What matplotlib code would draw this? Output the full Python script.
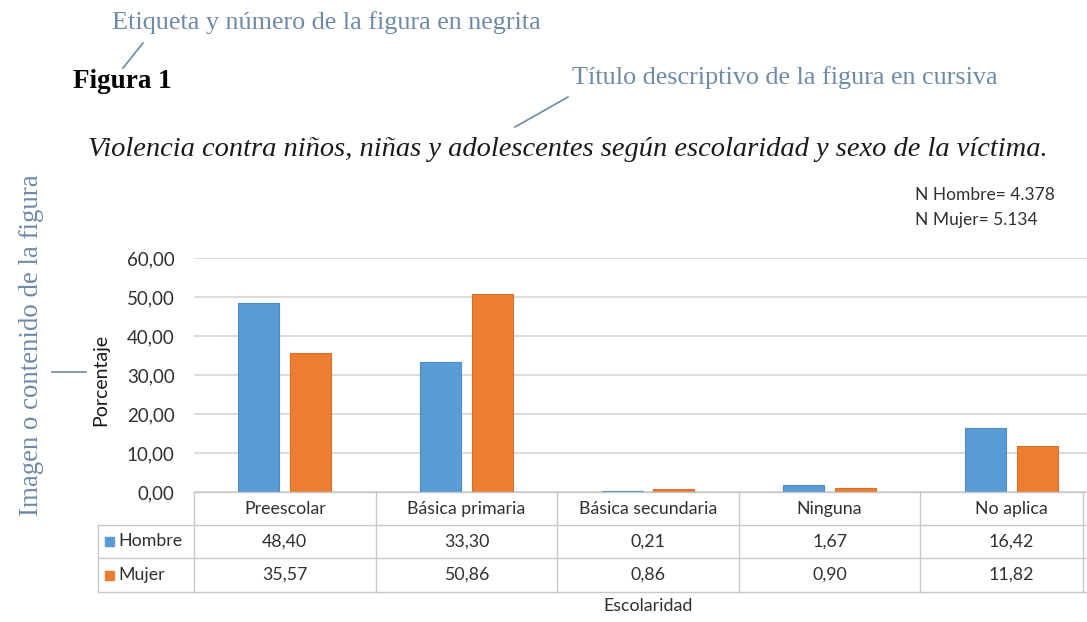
import matplotlib
matplotlib.use("Agg")
import matplotlib.pyplot as plt
from matplotlib.patches import Rectangle
from matplotlib.lines import Line2D
from matplotlib.ticker import FuncFormatter
import numpy as np

# ---- data ----
categories = ["Preescolar", "Básica primaria", "Básica secundaria", "Ninguna", "No aplica"]
hombre = [48.40, 33.30, 0.21, 1.67, 16.42]
mujer = [35.57, 50.86, 0.86, 0.90, 11.82]
series_names = ["Hombre", "Mujer"]
yticks = [0, 10, 20, 30, 40, 50, 60]
n_notes = ["N Hombre= 4.378", "N Mujer= 5.134"]

W, H = 1087, 622
fig = plt.figure(figsize=(W / 100, H / 100), dpi=100)
fig.patch.set_facecolor("white")

def fx(x):
    return x / W

def fy(y):
    return 1 - y / H

SANS = ["Lato", "DejaVu Sans"]
SERIF = ["Liberation Serif", "DejaVu Serif"]
ANN = "#6f8aa6"
BLUE = "#5B9BD5"
ORANGE = "#ED7D31"
GRID = "#d9d9d9"
TLINE = "#c8c8c8"
TXT = "#303030"

# ---- chart axes ----
x0, x1 = 194, 1102
y_top, y_bot = 258, 492
ax = fig.add_axes([fx(x0), fy(y_bot), fx(x1) - fx(x0), (y_bot - y_top) / H])
ax.set_facecolor("none")
x = np.arange(len(categories))
bw = 0.226
off = 0.143
ax.bar(x - off, hombre, bw, color=BLUE, edgecolor="#4f8cc6", linewidth=0.8, zorder=3)
ax.bar(x + off, mujer, bw, color=ORANGE, edgecolor="#d9702a", linewidth=0.8, zorder=3)
ax.set_xlim(-0.5, len(categories) - 0.5)
ax.set_ylim(0, 60)
ax.set_yticks(yticks)
ax.yaxis.set_major_formatter(FuncFormatter(lambda v, p: f"{v:.2f}".replace(".", ",")))
ax.tick_params(axis="y", length=0, pad=14, labelsize=13.5, labelcolor=TXT)
for lab in ax.get_yticklabels():
    lab.set_family(SANS)
ax.set_xticks([])
ax.yaxis.grid(True, color=GRID, linewidth=1.3, zorder=0)
for s in ax.spines.values():
    s.set_visible(False)

# y label
fig.text(fx(101), fy(380), "Porcentaje", rotation=90, ha="center", va="center",
         family=SANS, fontsize=14, color="#1a1a1a")

# ---- data table ----
col_w = (x1 - x0) / len(categories)
rows_y = [492, 525, 558, 592]
tl = dict(color=TLINE, linewidth=1.0)
fig.add_artist(Line2D([fx(x0), fx(x1)], [fy(492), fy(492)], **tl))
for yy in rows_y[1:]:
    fig.add_artist(Line2D([fx(98), fx(x1)], [fy(yy), fy(yy)], **tl))
fig.add_artist(Line2D([fx(98), fx(98)], [fy(525), fy(592)], **tl))
for i in range(len(categories) + 1):
    xx = x0 + i * col_w
    fig.add_artist(Line2D([fx(xx), fx(xx)], [fy(492), fy(592)], **tl))
fig.add_artist(Line2D([fx(1083), fx(1083)], [fy(492), fy(592)], **tl))

for i, c in enumerate(categories):
    cx = x0 + (i + 0.5) * col_w
    fig.text(fx(cx), fy(509), c, ha="center", va="center", family=SANS,
             fontsize=12.8, color=TXT)
    fig.text(fx(cx), fy(541.5), f"{hombre[i]:.2f}".replace(".", ","), ha="center",
             va="center", family=SANS, fontsize=12.8, color=TXT)
    fig.text(fx(cx), fy(575), f"{mujer[i]:.2f}".replace(".", ","), ha="center",
             va="center", family=SANS, fontsize=12.8, color=TXT)

for name, col, yc in zip(series_names, [BLUE, ORANGE], [541.5, 575]):
    fig.add_artist(Rectangle((fx(105), fy(yc + 4.5)), 9 / W, 9 / H, color=col,
                             transform=fig.transFigure))
    fig.text(fx(118), fy(yc), name, ha="left", va="center", family=SANS,
             fontsize=12.8, color=TXT)

fig.text(fx(648), fy(606), "Escolaridad", ha="center", va="center", family=SANS,
         fontsize=12.8, color=TXT)

# N notes
fig.text(fx(915), fy(195), n_notes[0], ha="left", va="center", family=SANS,
         fontsize=12.5, color=TXT)
fig.text(fx(915), fy(220), n_notes[1], ha="left", va="center", family=SANS,
         fontsize=12.5, color=TXT)

# ---- titles and annotations ----
fig.text(fx(112), fy(23), "Etiqueta y número de la figura en negrita", ha="left",
         va="center", family=SERIF, fontsize=18.8, color=ANN)
fig.add_artist(Line2D([fx(143), fx(123)], [fy(43), fy(68)], color=ANN, linewidth=1.2))
fig.text(fx(73), fy(82), "Figura 1", ha="left", va="center", family=SERIF,
         fontsize=19.5, fontweight="bold", color="black")
fig.text(fx(572), fy(78), "Título descriptivo de la figura en cursiva", ha="left",
         va="center", family=SERIF, fontsize=18.8, color=ANN)
fig.add_artist(Line2D([fx(568), fx(515)], [fy(97), fy(127)], color=ANN, linewidth=1.2))
fig.text(fx(88), fy(150), "Violencia contra niños, niñas y adolescentes según escolaridad y sexo de la víctima.",
         ha="left", va="center", family=SERIF, fontsize=20.5, style="italic", color="#1a1a1a")
fig.text(fx(32), fy(345), "Imagen o contenido de la figura", rotation=90, ha="center",
         va="center", family=SERIF, fontsize=19.4, color=ANN)
fig.add_artist(Line2D([fx(52), fx(86)], [fy(372), fy(372)], color=ANN, linewidth=1.2))

fig.savefig("out.png", dpi=100, facecolor="white")
